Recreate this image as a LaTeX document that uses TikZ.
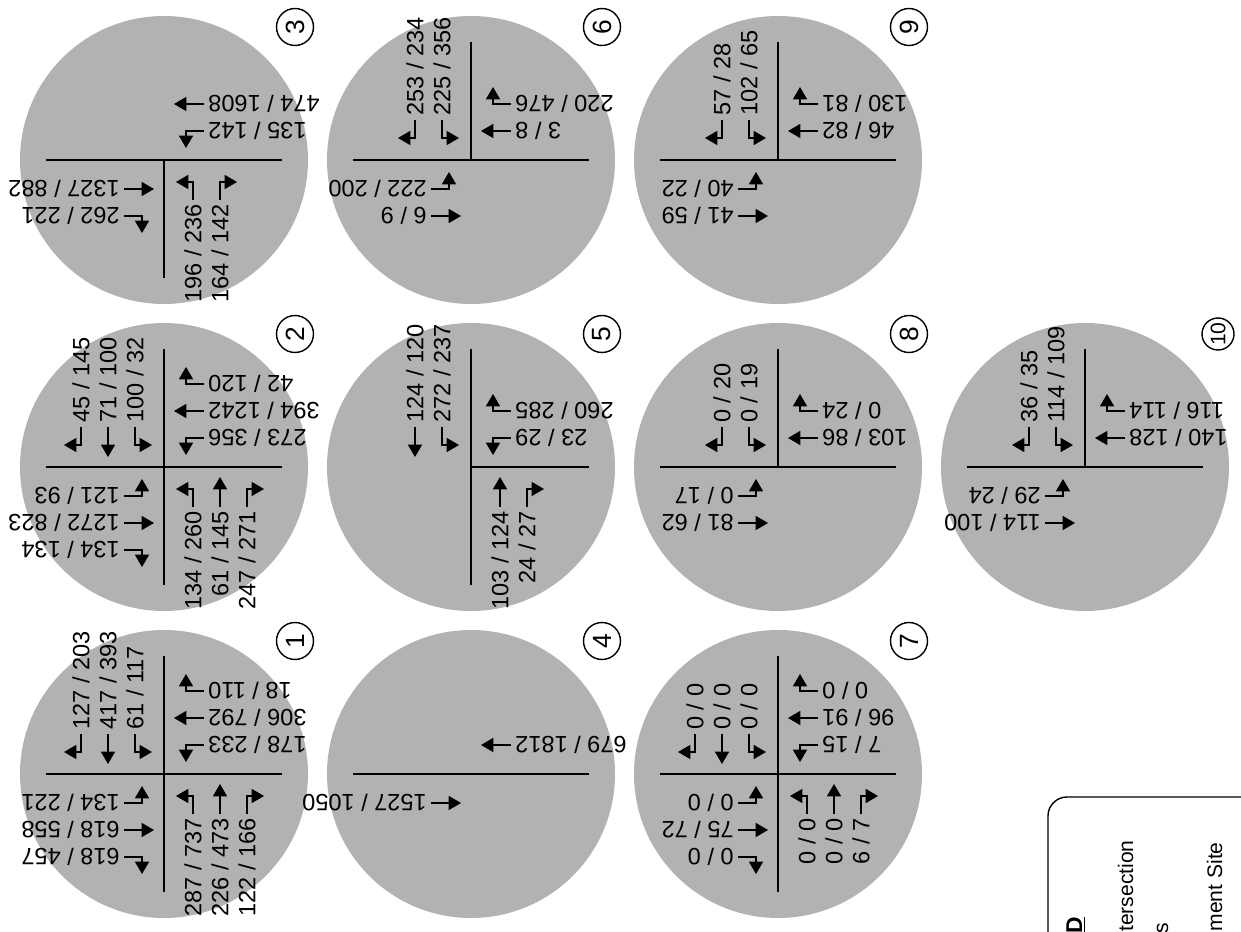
\documentclass[tikz,border=0pt]{standalone}
\usepackage{fontspec}
\setmainfont{Liberation Sans}
\usetikzlibrary{arrows.meta}

\tikzset{
  disc/.style={fill=gray!60},
  road/.style={line width=1pt},
  lane/.style={line width=0.6pt, line join=miter, -{Triangle[length=7pt,width=8pt]}},
  vol/.style={inner sep=0pt, font=\fontsize{13.4}{15}\selectfont},
  num/.style={draw, circle, line width=0.8pt, minimum size=0.74cm, inner sep=0pt, rotate=90, font=\fontsize{15}{15}\selectfont},
  sbound/.style={lbl/.style={vol, rotate=90, anchor=west}},
  wbound/.style={rotate=-90, lbl/.style={vol, rotate=180, anchor=east}},
  nbound/.style={rotate=180, lbl/.style={vol, rotate=90, anchor=east}},
  ebound/.style={rotate=90, lbl/.style={vol, rotate=180, anchor=west}},
  legtext/.style={inner sep=0pt, rotate=90, anchor=base east, font=\fontsize{12}{14}\selectfont}
}

\begin{document}
\begin{tikzpicture}[x=0.02cm, y=0.02cm, line cap=butt]
  \useasboundingbox (0,0) rectangle (1241,931);
  \clip (0,0) rectangle (1241,931);

  % lanes of one approach, drawn for southbound traffic
  \def\rturn#1#2{\draw[lane] (-#1,40) -- (-#1,22) -- ++(-17,0); \node[lbl] at (-#1,44) {#2};}
  \def\thru#1#2{\draw[lane] (-#1,40) -- (-#1,10); \node[lbl] at (-#1,44) {#2};}
  \def\lturn#1#2{\draw[lane] (-#1,40) -- (-#1,22) -- ++(17,0); \node[lbl] at (-#1,44) {#2};}

  \coordinate (I1) at (164,157);
  \coordinate (I2) at (164,464);
  \coordinate (I3) at (164,771);
  \coordinate (I4) at (471,157);
  \coordinate (I5) at (471,464);
  \coordinate (I6) at (471,771);
  \coordinate (I7) at (778,157);
  \coordinate (I8) at (778,464);
  \coordinate (I9) at (778,771);
  \coordinate (I10) at (1085,464);

  % 1
  \begin{scope}[shift={(I1)}]
    \fill[disc] (0,0) circle (144);
    \draw[road] (-118,0) -- (118,0);
    \draw[road] (0,-118) -- (0,118);
    \node[num] (n1) at (131,133) {1};
    \begin{scope}[sbound] \rturn{83}{127 / 203} \thru{56}{417 / 393} \lturn{29}{61 / 117} \end{scope}
    \begin{scope}[wbound] \rturn{83}{18 / 110} \thru{56}{306 / 792} \lturn{29}{178 / 233} \end{scope}
    \begin{scope}[nbound] \rturn{83}{122 / 166} \thru{56}{226 / 473} \lturn{29}{287 / 737} \end{scope}
    \begin{scope}[ebound] \rturn{83}{618 / 457} \thru{56}{618 / 558} \lturn{29}{134 / 221} \end{scope}
  \end{scope}

  % 2
  \begin{scope}[shift={(I2)}]
    \fill[disc] (0,0) circle (144);
    \draw[road] (-118,0) -- (118,0);
    \draw[road] (0,-118) -- (0,118);
    \node[num] (n2) at (131,133) {2};
    \begin{scope}[sbound] \rturn{83}{45 / 145} \thru{56}{71 / 100} \lturn{29}{100 / 32} \end{scope}
    \begin{scope}[wbound] \rturn{83}{42 / 120} \thru{56}{394 / 1242} \lturn{29}{273 / 356} \end{scope}
    \begin{scope}[nbound] \rturn{83}{247 / 271} \thru{56}{61 / 145} \lturn{29}{134 / 260} \end{scope}
    \begin{scope}[ebound] \rturn{83}{134 / 134} \thru{56}{1272 / 823} \lturn{29}{121 / 93} \end{scope}
  \end{scope}

  % 3
  \begin{scope}[shift={(I3)}]
    \fill[disc] (0,0) circle (144);
    \draw[road] (-118,0) -- (118,0);
    \draw[road] (0,0) -- (0,-118);
    \node[num] (n3) at (131,133) {3};
    \begin{scope}[wbound] \thru{56}{474 / 1608} \lturn{29}{135 / 142} \end{scope}
    \begin{scope}[nbound] \rturn{56}{164 / 142} \lturn{29}{196 / 236} \end{scope}
    \begin{scope}[ebound] \rturn{56}{262 / 221} \thru{29}{1327 / 882} \end{scope}
  \end{scope}

  % 4
  \begin{scope}[shift={(I4)}]
    \fill[disc] (0,0) circle (144);
    \draw[road] (-118,0) -- (118,0);
    \node[num] (n4) at (131,133) {4};
    \begin{scope}[wbound] \thru{29}{679 / 1812} \end{scope}
    \begin{scope}[ebound] \thru{29}{1527 / 1050} \end{scope}
  \end{scope}

  % 5
  \begin{scope}[shift={(I5)}]
    \fill[disc] (0,0) circle (144);
    \draw[road] (0,0) -- (118,0);
    \draw[road] (0,-118) -- (0,118);
    \node[num] (n5) at (131,133) {5};
    \begin{scope}[sbound] \thru{56}{124 / 120} \lturn{29}{272 / 237} \end{scope}
    \begin{scope}[wbound] \rturn{56}{260 / 285} \lturn{29}{23 / 29} \end{scope}
    \begin{scope}[nbound] \rturn{56}{24 / 27} \thru{29}{103 / 124} \end{scope}
  \end{scope}

  % 6
  \begin{scope}[shift={(I6)}]
    \fill[disc] (0,0) circle (144);
    \draw[road] (-118,0) -- (118,0);
    \draw[road] (0,0) -- (0,118);
    \node[num] (n6) at (131,133) {6};
    \begin{scope}[sbound] \rturn{56}{253 / 234} \lturn{29}{225 / 356} \end{scope}
    \begin{scope}[wbound] \rturn{56}{220 / 476} \thru{29}{3 / 8} \end{scope}
    \begin{scope}[ebound] \thru{56}{6 / 9} \lturn{29}{222 / 200} \end{scope}
  \end{scope}

  % 7
  \begin{scope}[shift={(I7)}]
    \fill[disc] (0,0) circle (144);
    \draw[road] (-118,0) -- (118,0);
    \draw[road] (0,-118) -- (0,118);
    \node[num] (n7) at (131,133) {7};
    \begin{scope}[sbound] \rturn{83}{0 / 0} \thru{56}{0 / 0} \lturn{29}{0 / 0} \end{scope}
    \begin{scope}[wbound] \rturn{83}{0 / 0} \thru{56}{96 / 91} \lturn{29}{7 / 15} \end{scope}
    \begin{scope}[nbound] \rturn{83}{6 / 7} \thru{56}{0 / 0} \lturn{29}{0 / 0} \end{scope}
    \begin{scope}[ebound] \rturn{83}{0 / 0} \thru{56}{75 / 72} \lturn{29}{0 / 0} \end{scope}
  \end{scope}

  % 8
  \begin{scope}[shift={(I8)}]
    \fill[disc] (0,0) circle (144);
    \draw[road] (-118,0) -- (118,0);
    \draw[road] (0,0) -- (0,118);
    \node[num] (n8) at (131,133) {8};
    \begin{scope}[sbound] \rturn{56}{0 / 20} \lturn{29}{0 / 19} \end{scope}
    \begin{scope}[wbound] \rturn{56}{0 / 24} \thru{29}{103 / 86} \end{scope}
    \begin{scope}[ebound] \thru{56}{81 / 62} \lturn{29}{0 / 17} \end{scope}
  \end{scope}

  % 9
  \begin{scope}[shift={(I9)}]
    \fill[disc] (0,0) circle (144);
    \draw[road] (-118,0) -- (118,0);
    \draw[road] (0,0) -- (0,118);
    \node[num] (n9) at (131,133) {9};
    \begin{scope}[sbound] \rturn{56}{57 / 28} \lturn{29}{102 / 65} \end{scope}
    \begin{scope}[wbound] \rturn{56}{130 / 81} \thru{29}{46 / 82} \end{scope}
    \begin{scope}[ebound] \thru{56}{41 / 59} \lturn{29}{40 / 22} \end{scope}
  \end{scope}

  % 10
  \begin{scope}[shift={(I10)}]
    \fill[disc] (0,0) circle (144);
    \draw[road] (-118,0) -- (118,0);
    \draw[road] (0,0) -- (0,118);
    \node[num, minimum size=0.64cm, font=\fontsize{12}{12}\selectfont] (n10) at (133,133) {10};
    \begin{scope}[sbound] \rturn{56}{36 / 35} \lturn{29}{114 / 109} \end{scope}
    \begin{scope}[wbound] \rturn{56}{116 / 114} \thru{29}{140 / 128} \end{scope}
    \begin{scope}[ebound] \thru{56}{114 / 100} \lturn{29}{29 / 24} \end{scope}
  \end{scope}

  % legend (cut by the page edge)
  \draw[line width=0.8pt, rounded corners=0.38cm] (1048,-60) |- (1320,134);
  \node[legtext, font=\fontsize{13}{14}\selectfont\bfseries] (leg) at (1082,14) {\underline{LEGEND}};
  \node[legtext] (legI) at (1133,91) {Study Intersection};
  \node[legtext] (legV) at (1168,8) {AM / PM Peak Hour Volumes};
  \node[legtext] (legS) at (1222,89) {Development Site};
\end{tikzpicture}
\end{document}
